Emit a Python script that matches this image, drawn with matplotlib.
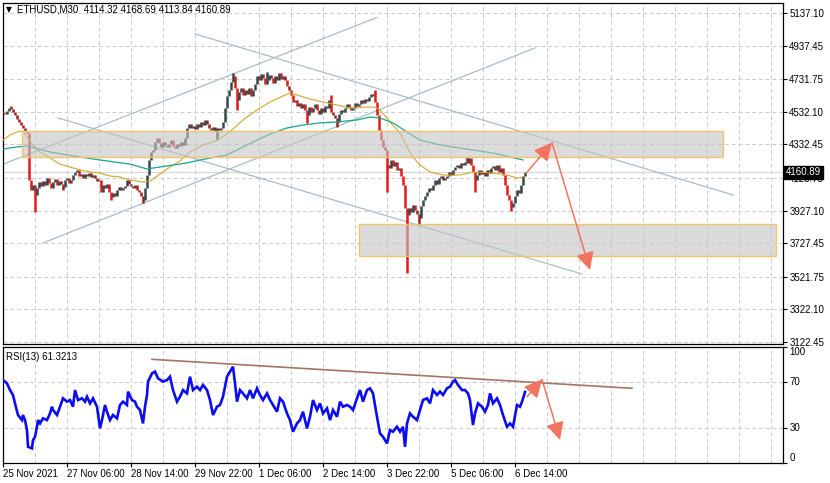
import matplotlib
matplotlib.use('Agg')
import matplotlib.pyplot as plt
import numpy as np
from matplotlib.patches import Rectangle

plt.rcParams['font.family'] = ['Liberation Sans', 'DejaVu Sans']

# ---------------- data ----------------
bar_step = 2  # closes sampled every 2 M30 bars
closes = [
    4525, 4519, 4537, 4555, 4549, 4531, 4512, 4488, 4470, 4451,
    4433, 4415, 4402, 4114, 4053, 4084, 4022, 4065, 4102, 4078,
    4108, 4084, 4127, 4096, 4065, 4102, 4121, 4084, 4108, 4090,
    4072, 4114, 4127, 4096, 4114, 4145, 4164, 4176, 4139, 4151,
    4127, 4151, 4139, 4157, 4133, 4145, 4127, 4108, 4114, 4041,
    4084, 4065, 4090, 4041, 4010, 4035, 4016, 4053, 4072, 4053,
    4065, 4078, 4114, 4090, 4078, 4065, 4084, 4053, 4041, 4016,
    3992, 4065, 4145, 4237, 4286, 4298, 4347, 4372, 4341, 4317,
    4347, 4329, 4317, 4335, 4359, 4323, 4310, 4335, 4323, 4347,
    4329, 4372, 4433, 4457, 4433, 4445, 4427, 4457, 4439, 4470,
    4451, 4482, 4457, 4433, 4421, 4439, 4415, 4433, 4421, 4433,
    4470, 4555, 4629, 4666, 4715, 4751, 4678, 4604, 4653, 4678,
    4635, 4666, 4641, 4678, 4629, 4666, 4702, 4751, 4727, 4764,
    4739, 4702, 4727, 4757, 4739, 4708, 4751, 4727, 4770, 4733,
    4751, 4727, 4690, 4666, 4635, 4592, 4604, 4568, 4586, 4555,
    4580, 4543, 4512, 4561, 4531, 4555, 4580, 4543, 4519, 4555,
    4531, 4568, 4555, 4604, 4531, 4512, 4494, 4470, 4519, 4543,
    4531, 4555, 4580, 4561, 4543, 4555, 4586, 4568, 4580, 4604,
    4586, 4610, 4598, 4623, 4641, 4629, 4592, 4512, 4421, 4359,
    4317, 4298, 4206, 4188, 4237, 4200, 4225, 4176, 4188, 4139,
    4084, 3943, 3900, 3943, 3918, 3961, 3931, 3906, 3882, 3955,
    3992, 4016, 4041, 4065, 4053, 4084, 4114, 4090, 4127, 4139,
    4114, 4127, 4139, 4164, 4145, 4176, 4194, 4206, 4188, 4219,
    4206, 4225, 4219, 4249, 4206, 4164, 4114, 4145, 4176, 4151,
    4164, 4139, 4176, 4157, 4188, 4200, 4176, 4206, 4164, 4188,
    4145, 4084, 4022, 3992, 3949, 3974, 4016, 4053, 4035, 4084,
    4139, 4160.89,
]
first_open = 4531
wick_bar = [7, 32, 60, 108, 140, 214, 230, 234, 264, 304, 327, 334, 372, 384, 403, 415, 465, 472, 509]
wick_price = [4568, 3918, 4053, 3992, 3974, 4359, 4770, 4543, 4776, 4463, 4635, 4439, 4666, 4041, 3545, 3839, 4257, 4041, 3925]

ma_fast_idx = [0, 7, 14, 20, 24, 30, 37, 47, 57, 67, 77, 87, 97, 107, 117, 127, 140, 147, 157, 167,
               177, 187, 200, 210, 220, 229, 240, 254, 267, 280, 287, 294, 307, 320, 334, 347, 362, 372, 377, 387,
               397, 404, 410, 417, 427, 440, 457, 470, 490, 504, 514, 520]
ma_fast = [4359, 4390, 4408, 4415, 4378, 4329, 4286, 4249, 4212, 4194, 4176, 4164, 4157, 4139, 4133, 4114, 4102, 4108, 4151, 4194,
           4231, 4286, 4329, 4347, 4378, 4421, 4482, 4543, 4592, 4629, 4647, 4635, 4610, 4592, 4574, 4555, 4561, 4561, 4543, 4470,
           4402, 4317, 4255, 4206, 4164, 4145, 4145, 4164, 4157, 4145, 4127, 4133]

ma_slow_idx = [0, 14, 24, 32, 47, 64, 77, 97, 127, 144, 157, 184, 197, 224, 250, 267, 284, 300, 317, 334,
               354, 367, 377, 390, 404, 417, 437, 457, 490, 520]
ma_slow = [4304, 4317, 4323, 4310, 4286, 4268, 4255, 4237, 4212, 4182, 4194, 4219, 4237, 4268, 4347, 4396, 4433, 4451, 4464, 4470,
           4482, 4500, 4494, 4464, 4408, 4359, 4329, 4310, 4280, 4237]

rsi_idx = [0, 4, 7, 10, 12, 15, 19, 20, 22, 24, 25, 29, 30, 32, 34, 35, 37, 40, 44, 47,
           49, 50, 54, 57, 60, 64, 67, 70, 72, 75, 79, 82, 84, 87, 90, 94, 97, 99, 102, 104,
           107, 110, 114, 117, 120, 124, 125, 129, 132, 134, 137, 140, 142, 144, 145, 149, 152, 155, 160, 164,
           167, 170, 174, 177, 180, 184, 187, 190, 194, 197, 200, 204, 207, 210, 214, 217, 220, 224, 227, 230,
           232, 234, 237, 240, 244, 247, 250, 254, 257, 260, 264, 267, 270, 274, 277, 280, 284, 287, 290, 294,
           297, 300, 304, 307, 310, 314, 317, 320, 324, 327, 330, 334, 337, 340, 344, 347, 350, 354, 357, 360,
           364, 367, 370, 374, 377, 380, 384, 387, 390, 394, 397, 400, 402, 404, 407, 410, 414, 417, 420, 424,
           427, 430, 434, 437, 440, 444, 447, 450, 452, 455, 459, 462, 465, 467, 470, 472, 475, 479, 482, 485,
           487, 490, 494, 497, 500, 504, 507, 510, 514, 517, 519, 522]
rsi_vals = [71.7, 68.8, 63.0, 58.7, 51.4, 41.3, 36.9, 41.3, 36.9, 28.2, 13.7, 12.3, 19.5, 22.4, 31.1, 36.9, 34.0, 38.4, 36.9, 42.7,
            48.5, 45.6, 41.3, 48.5, 55.8, 52.9, 54.3, 48.5, 63.0, 54.3, 55.8, 52.9, 57.2, 51.4, 55.8, 48.5, 29.7, 36.9, 50.0, 44.2,
            36.9, 41.3, 38.4, 50.0, 52.9, 50.0, 61.6, 54.3, 52.9, 48.5, 45.6, 34.0, 48.5, 58.7, 70.3, 77.5, 79.0, 73.2, 70.3, 71.7,
            74.6, 63.0, 52.9, 57.2, 63.0, 60.1, 74.6, 63.0, 65.9, 63.0, 67.4, 63.0, 54.3, 41.3, 48.5, 50.0, 57.2, 74.6, 79.0, 83.3,
            68.8, 52.9, 63.0, 60.1, 55.8, 63.0, 55.8, 64.5, 58.7, 54.3, 60.1, 54.3, 50.0, 44.2, 55.8, 52.9, 42.7, 36.9, 26.8, 34.0,
            36.9, 44.2, 29.7, 39.8, 54.3, 45.6, 51.4, 42.7, 47.1, 36.9, 45.6, 39.8, 52.9, 48.5, 50.0, 48.5, 45.6, 55.8, 63.0, 52.9,
            63.0, 64.5, 60.1, 39.8, 25.3, 22.4, 16.6, 28.2, 26.8, 31.1, 26.8, 31.1, 13.7, 34.0, 42.7, 39.8, 36.9, 45.6, 54.3, 55.8,
            51.4, 63.0, 58.7, 61.6, 58.7, 64.5, 65.9, 70.3, 71.7, 67.4, 63.0, 63.0, 60.1, 54.3, 32.6, 42.7, 51.4, 48.5, 44.2, 50.0,
            60.1, 51.4, 55.8, 50.0, 41.3, 31.1, 34.0, 31.1, 50.0, 48.5, 52.9, 61.32]

price_ticks = [5137.10, 4937.45, 4731.75, 4532.10, 4332.45, 4128.75, 3927.10, 3727.45, 3521.75, 3322.10, 3122.45]
price_tick_labels = ['5137.10', '4937.45', '4731.75', '4532.10', '4332.45', '4128.75', '3927.10', '3727.45', '3521.75', '3322.10', '3122.45']
time_label_idx = [0, 64, 128, 192, 256, 320, 384, 448, 512]
time_labels = ['25 Nov 2021', '27 Nov 06:00', '28 Nov 14:00', '29 Nov 22:00', '1 Dec 06:00',
               '2 Dec 14:00', '3 Dec 22:00', '5 Dec 06:00', '6 Dec 14:00']
last_price = 4160.89
header = 'ETHUSD,M30  4114.32 4168.69 4113.84 4160.89'
rsi_label = 'RSI(13) 61.3213'

# zones: (start bar, end bar, low price, high price)
zone_upper = (19, 720, 4255, 4415)
zone_lower = (356, 773, 3649, 3845)
# trend lines: ((bar, price), (bar, price))
trend_lines = [((0, 4211), (374, 5110)),
               ((40, 3729), (532, 4923)),
               ((55, 4494), (579, 3539)),
               ((192, 5009), (730, 4023))]
arrow_main = [(523, 4155), (549, 4343), (587, 3563)]
rsi_trend = ((149, 89.7), (629, 64.5))
arrow_rsi = [(524, 57.2), (539, 72.3), (557, 19.6)]

# ---------------- figure ----------------
W, H = 830, 483
fig = plt.figure(figsize=(W / 100, H / 100), dpi=100)
fig.patch.set_facecolor('white')

def fx(px):
    return px / W

def fy(py):
    return 1 - py / H

ax = fig.add_axes([fx(3), fy(344), fx(780), 341 / H])
ax2 = fig.add_axes([fx(3), fy(463), fx(780), 116 / H])

XMAX = 780
grid_kw = dict(color='#c9c9c9', lw=0.7, ls=(0, (4, 3)), zorder=0.5)
for a in (ax, ax2):
    a.set_xlim(0, XMAX)
    for s in a.spines.values():
        s.set_linewidth(0.9)
        s.set_color('black')
    for gx in range(32, XMAX, 32):
        a.axvline(gx, **grid_kw)

# --- main panel ---
ax.set_ylim(3110.2, 5198.3)
for p in price_ticks:
    ax.axhline(p, **grid_kw)
ax.axhline(last_price, color='#d6d6d6', lw=0.8, zorder=0.6)

c = np.array(closes, float)
idx = np.arange(len(c)) * bar_step
o = np.concatenate([[first_open], c[:-1]])
hi = np.maximum(o, c)
lo = np.minimum(o, c)
for wi, wp in zip(wick_bar, wick_price):
    k = int(round(wi / bar_step))
    hi[k] = max(hi[k], wp)
    lo[k] = min(lo[k], wp)
bull = c >= o
big_bear = (~bull) & ((o - c) > 25)
small_bear = (~bull) & ~big_bear
ax.vlines(idx[small_bear], lo[small_bear], hi[small_bear], color='#9a2020', lw=1.8, zorder=3)
ax.vlines(idx[big_bear], lo[big_bear], hi[big_bear], color='#e01a1a', lw=1.8, zorder=3)
ax.vlines(idx[bull], lo[bull], hi[bull], color='#34484a', lw=1.8, zorder=3)

ax.plot(ma_fast_idx, ma_fast, color='#d6a52a', lw=0.8, zorder=3.5)
ax.plot(ma_slow_idx, ma_slow, color='#1aa392', lw=0.9, zorder=3.5)

for (x0, p0), (x1, p1) in trend_lines:
    ax.plot([x0, x1], [p0, p1], color='#a9bcc8', lw=0.9, zorder=2)

for (b0, b1, p0, p1) in (zone_upper, zone_lower):
    ax.add_patch(Rectangle((b0, p0), b1 - b0, p1 - p0, facecolor='#c4c4c4', alpha=0.6,
                           edgecolor='none', zorder=4))
    ax.add_patch(Rectangle((b0, p0), b1 - b0, p1 - p0, facecolor='none',
                           edgecolor='#f0c56a', lw=1.0, zorder=4.1))

arrow_col = '#f27360'
for pts, a in ((arrow_main, ax), (arrow_rsi, ax2)):
    for (x0, y0), (x1, y1) in zip(pts[:-1], pts[1:]):
        a.annotate('', xy=(x1, y1), xytext=(x0, y0),
                   arrowprops=dict(arrowstyle='-|>,head_length=0.9,head_width=0.45', color=arrow_col,
                                   lw=1.1, mutation_scale=12, shrinkA=0, shrinkB=0),
                   zorder=5)

ax.yaxis.tick_right()
ax.set_yticks(price_ticks)
ax.set_yticklabels(price_tick_labels)
ax.tick_params(axis='y', direction='out', length=3, width=0.8, pad=1.5, labelsize=7)
ax.set_xticks([])

ax.text(1.004, last_price, f'{last_price:.2f}', transform=ax.get_yaxis_transform(),
        color='white', fontsize=7, va='center', ha='left', zorder=10,
        bbox=dict(boxstyle='square,pad=0.18', facecolor='black', edgecolor='black'), clip_on=False)

fig.text(fx(6), fy(10), '\u25bc', fontsize=5.5, va='center', ha='left', family=['DejaVu Sans'])
fig.text(fx(17), fy(10), header, fontsize=7, va='center', ha='left')

# --- RSI panel ---
ax2.set_ylim(-0.4, 100.4)
for lvl in (70, 30):
    ax2.axhline(lvl, **grid_kw)
ax2.plot(rsi_idx, rsi_vals, color='#0c0cf0', lw=1.9, zorder=3, solid_joinstyle='miter')
ax2.plot([rsi_trend[0][0], rsi_trend[1][0]], [rsi_trend[0][1], rsi_trend[1][1]],
         color='#a47468', lw=1.2, zorder=2.5)
ax2.yaxis.tick_right()
ax2.set_yticks([100, 70, 30, 0])
ax2.set_yticklabels(['100', '70', '30', '0'])
ax2.tick_params(axis='y', direction='out', length=3, width=0.8, pad=1.5, labelsize=7)
for lbl, va in zip(ax2.get_yticklabels(), ['top', 'center', 'center', 'bottom']):
    lbl.set_va(va)
ax2.set_xticks(time_label_idx)
ax2.set_xticklabels(time_labels)
ax2.tick_params(axis='x', direction='out', length=3, width=0.8, pad=1.5, labelsize=7)
for lbl in ax2.get_xticklabels():
    lbl.set_ha('left')
ax2.text(3 / 780, 0.915, rsi_label, transform=ax2.transAxes, fontsize=7,
         va='center', ha='left')

fig.savefig('out.png', dpi=100)
